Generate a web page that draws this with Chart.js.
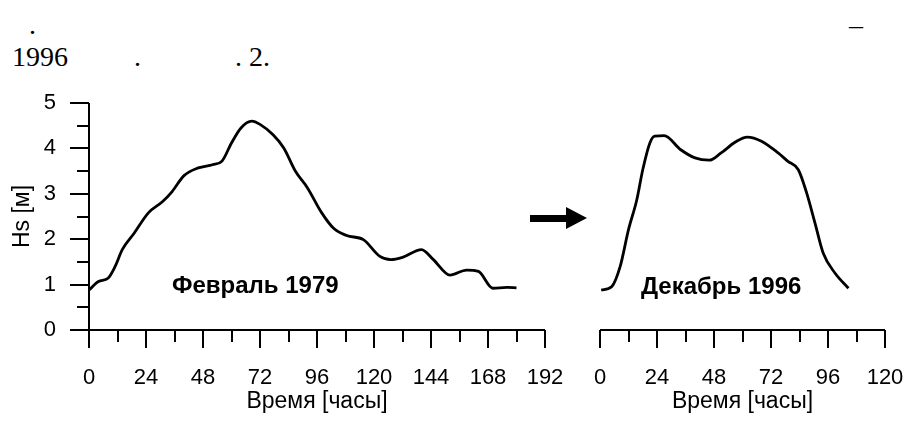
<!DOCTYPE html>
<html>
<head>
<meta charset="utf-8">
<script src="https://cdn.jsdelivr.net/npm/chart.js@4.4.1/dist/chart.umd.min.js"></script>
<style>
  body { margin: 0; background: #fff; }
  #page { position: relative; width: 909px; height: 421px; overflow: hidden; background: #fff; }
  canvas { position: absolute; left: 0; top: 0; }
  .txt { position: absolute; font-family: 'Liberation Serif', 'Times New Roman', serif; font-size: 28px; color: #000; white-space: pre; line-height: 1; }
  .shaft { position: absolute; left: 530px; top: 215px; width: 38px; height: 7px; background: #000; }
  .head { position: absolute; left: 566px; top: 207px; width: 0; height: 0;
          border-left: 21px solid #000; border-top: 11.5px solid transparent; border-bottom: 11.5px solid transparent; }
</style>
</head>
<body>
<div id="page">
  <div class="txt" style="left:29px; top:11px;">.</div>
  <div class="txt" style="left:849px; top:11px;">–</div>
  <div class="txt" style="left:12px; top:43px;">1996</div>
  <div class="txt" style="left:134px; top:43px;">.</div>
  <div class="txt" style="left:235px; top:43px;">. 2.</div>
  <canvas id="feb" width="909" height="421"></canvas>
  <canvas id="dec" width="909" height="421"></canvas>
  <div class="shaft"></div>
  <div class="head"></div>
</div>
<script>
// February 1979 storm: hours and significant wave height (m)
const febHours = [0, 4, 8, 11, 14, 19, 25, 31, 35, 40, 46, 52, 56, 60, 64, 68.5, 72, 77.5, 82, 87, 92, 98, 103, 108.5, 115.5, 122.5, 127, 132, 140, 145, 152, 159, 164, 170, 176, 180];
const febHs = [0.88, 1.07, 1.14, 1.40, 1.77, 2.13, 2.58, 2.83, 3.05, 3.40, 3.57, 3.64, 3.72, 4.12, 4.45, 4.60, 4.53, 4.30, 4.01, 3.49, 3.13, 2.58, 2.24, 2.08, 1.99, 1.62, 1.55, 1.60, 1.77, 1.55, 1.21, 1.32, 1.29, 0.92, 0.94, 0.93];

// December 1996 storm
const decHours = [0.5, 5, 8.5, 12, 15.5, 18, 21, 23, 27, 34, 40, 46, 51, 57, 62, 68, 75, 79, 83.5, 87, 90.5, 94, 99, 104.6];
const decHs = [0.88, 0.96, 1.40, 2.21, 2.87, 3.53, 4.12, 4.27, 4.28, 3.97, 3.79, 3.74, 3.90, 4.14, 4.25, 4.16, 3.90, 3.72, 3.53, 3.02, 2.36, 1.69, 1.25, 0.92];

const febMaxHour = 192;
const decMaxHour = 120;
const hourStep = 24;
const hsMax = 5;

const labelFeb = { text: 'Февраль 1979', x: 70, y: 0.95 };
const labelDec = { text: 'Декабрь 1996', x: 51, y: 0.93 };

const FONT = "'Liberation Sans', Arial, sans-serif";

// draws axis lines with long/short ticks and the bold storm label
const axesPlugin = {
    id: 'axesPlugin',
    afterDraw(chart, args, opts) {
        const ctx = chart.ctx;
        const xs = chart.scales.x;
        const ys = chart.scales.y;
        const y0 = ys.getPixelForValue(0);
        ctx.save();
        ctx.strokeStyle = '#000';
        ctx.lineWidth = 2;
        ctx.beginPath();
        ctx.moveTo(xs.getPixelForValue(xs.min), y0);
        ctx.lineTo(xs.getPixelForValue(xs.max), y0);
        for (let t = xs.min; t <= xs.max; t += hourStep / 2) {
            const px = Math.round(xs.getPixelForValue(t));
            const len = t % hourStep === 0 ? 18 : 12;
            ctx.moveTo(px, y0);
            ctx.lineTo(px, y0 + len);
        }
        if (opts.yAxis) {
            const x0 = xs.getPixelForValue(0);
            ctx.moveTo(x0, ys.getPixelForValue(hsMax));
            ctx.lineTo(x0, y0);
            for (let v = 0; v <= hsMax; v += 0.5) {
                const py = Math.round(ys.getPixelForValue(v));
                const len = v % 1 === 0 ? 19 : 12;
                ctx.moveTo(x0, py);
                ctx.lineTo(x0 - len, py);
            }
        }
        ctx.stroke();

        if (opts.label) {
            ctx.fillStyle = '#000';
            ctx.font = 'bold 24px ' + FONT;
            ctx.textAlign = 'center';
            ctx.textBaseline = 'middle';
            ctx.fillText(opts.label.text, xs.getPixelForValue(opts.label.x), ys.getPixelForValue(opts.label.y));
        }
        ctx.restore();
    }
};

function makeChart(id, hours, hs, maxHour, label, withYAxis, padding) {
    const points = hours.map((h, i) => ({ x: h, y: hs[i] }));
    return new Chart(document.getElementById(id), {
        type: 'line',
        data: {
            datasets: [{
                data: points,
                borderColor: '#000',
                borderWidth: 2.8,
                pointRadius: 0,
                fill: false,
                cubicInterpolationMode: 'monotone'
            }]
        },
        options: {
            responsive: false,
            animation: false,
            layout: { padding: padding },
            plugins: {
                legend: { display: false },
                tooltip: { enabled: false },
                axesPlugin: { yAxis: withYAxis, label: label }
            },
            scales: {
                x: {
                    type: 'linear',
                    min: 0,
                    max: maxHour,
                    afterFit: s => { s.height = 91; },
                    // invisible tick marks only push the labels down (own ticks drawn by plugin)
                    grid: { display: false, drawTicks: true, tickLength: 35 },
                    border: { display: false },
                    ticks: {
                        stepSize: hourStep,
                        autoSkip: false,
                        maxRotation: 0,
                        padding: 0,
                        color: '#000',
                        font: { family: FONT, size: 22 }
                    },
                    title: {
                        display: true,
                        text: 'Время [часы]',
                        color: '#000',
                        font: { family: FONT, size: 23 },
                        padding: { top: 0, bottom: 6 }
                    }
                },
                y: {
                    min: 0,
                    max: hsMax,
                    display: withYAxis,
                    afterFit: s => { s.width = withYAxis ? 89 : 0; },
                    grid: { display: false, drawTicks: false },
                    border: { display: false },
                    ticks: {
                        stepSize: 1,
                        padding: 33,
                        color: '#000',
                        font: { family: FONT, size: 22 }
                    },
                    title: {
                        display: true,
                        text: 'Hs [м]',
                        color: '#000',
                        font: { family: FONT, size: 23 },
                        padding: { top: 9, bottom: 0 }
                    }
                }
            }
        },
        plugins: [axesPlugin]
    });
}

makeChart('feb', febHours, febHs, febMaxHour, labelFeb, true, { left: 0, top: 103, right: 364, bottom: 0 });
makeChart('dec', decHours, decHs, decMaxHour, labelDec, false, { left: 600, top: 103, right: 24, bottom: 0 });
</script>
</body>
</html>
